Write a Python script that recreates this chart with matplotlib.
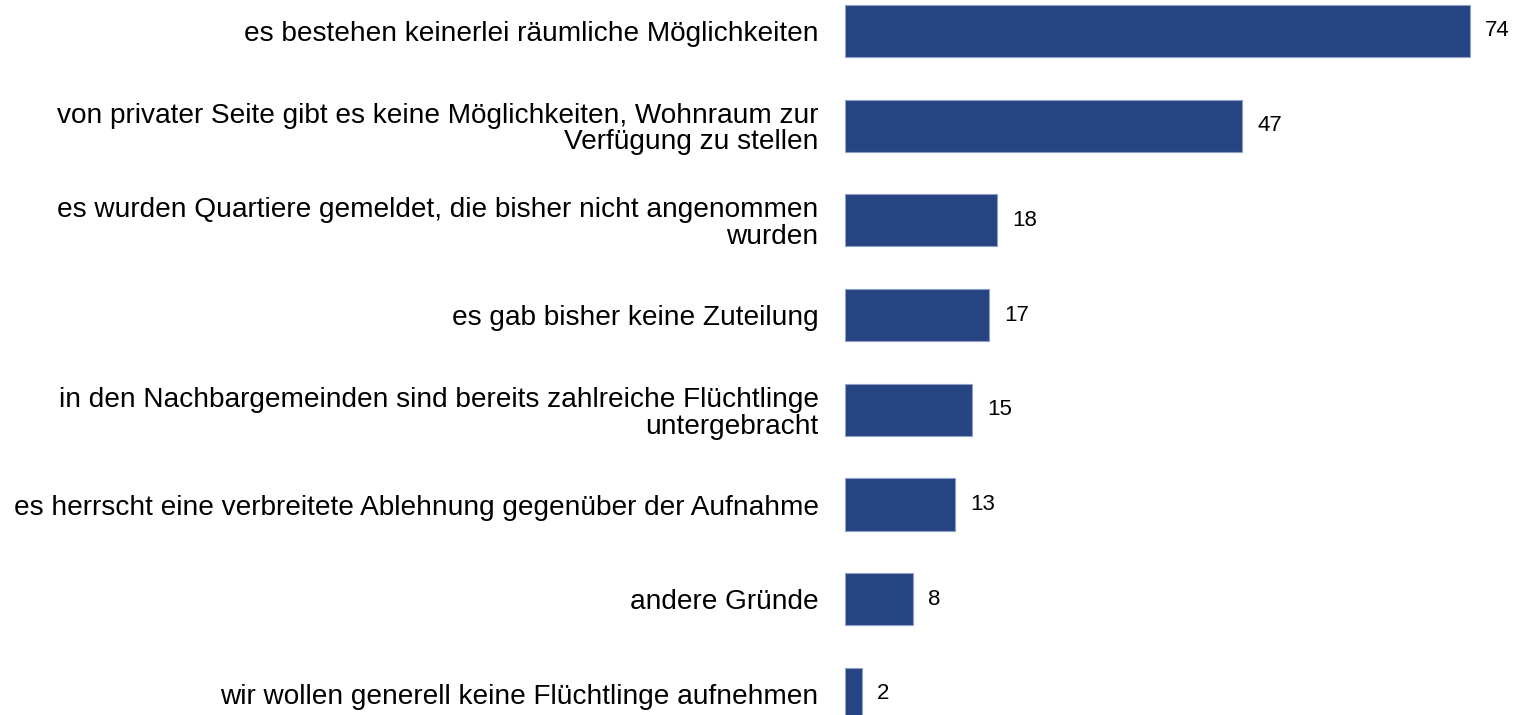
import numpy as np
from matplotlib import pyplot as plt
from matplotlib import rcParams

rcParams["font.family"] = ["Liberation Sans", "DejaVu Sans"]

reasons = [
    "es bestehen keinerlei räumliche Möglichkeiten",
    "von privater Seite gibt es keine Möglichkeiten, Wohnraum zur\nVerfügung zu stellen",
    "es wurden Quartiere gemeldet, die bisher nicht angenommen\nwurden",
    "es gab bisher keine Zuteilung",
    "in den Nachbargemeinden sind bereits zahlreiche Flüchtlinge\nuntergebracht",
    "es herrscht eine verbreitete Ablehnung gegenüber der Aufnahme",
    "andere Gründe",
    "wir wollen generell keine Flüchtlinge aufnehmen",
]
counts = [74, 47, 18, 17, 15, 13, 8, 2]

fig = plt.figure(figsize=(15.16, 7.15), dpi=100)
ax = fig.add_axes([845 / 1516, 0, 1 - 845 / 1516, 1])

pos = np.arange(len(reasons))
ax.barh(pos, counts, height=0.55, color="#264382", edgecolor="#8fa0c8", linewidth=0.8)

for y, v in zip(pos, counts):
    ax.annotate(str(v), (v, y), xytext=(11, 0), textcoords="offset points",
                ha="left", va="center", fontsize=16)

ax.set_yticks(pos)
ax.set_yticklabels(reasons, fontsize=20.2)
for t in ax.get_yticklabels():
    t.set_linespacing(1.04)
ax.tick_params(axis="y", length=0, pad=19)
ax.set_xticks([])
ax.set_xlim(0, 79.45)
ax.set_ylim(7.222, -0.327)
for s in ax.spines.values():
    s.set_visible(False)

plt.savefig("out.png", dpi=100)
